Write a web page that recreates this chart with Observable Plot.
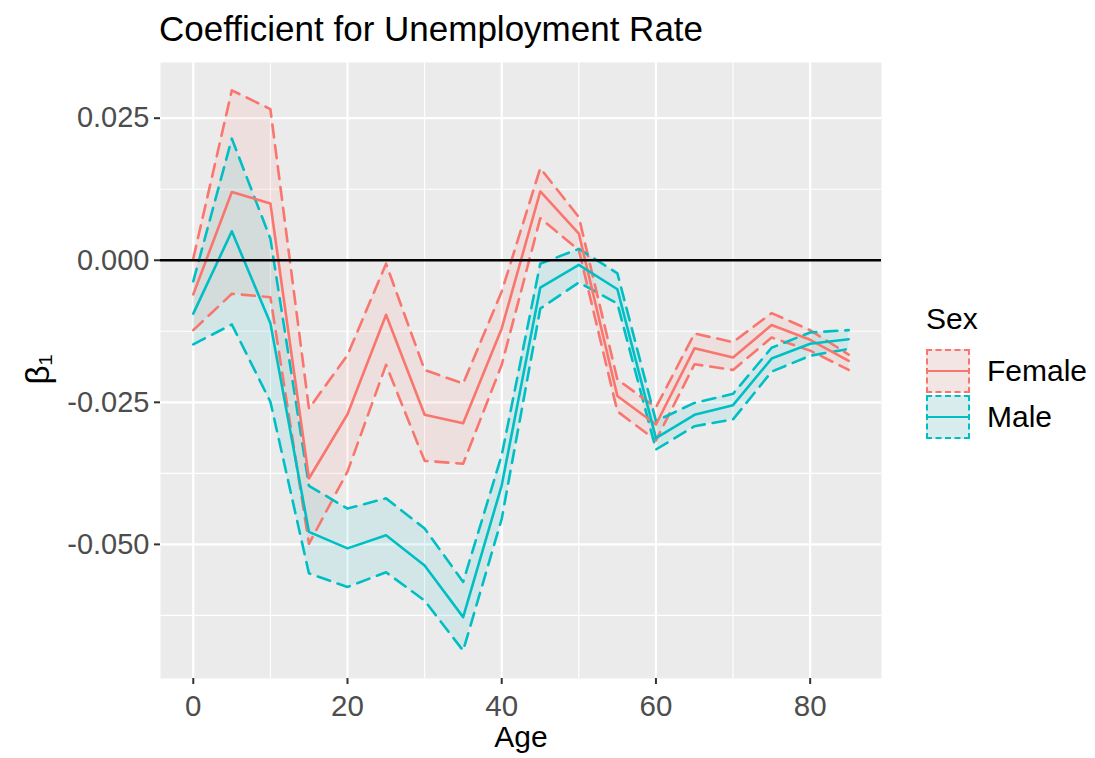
<!DOCTYPE html>
<html>
<head>
<meta charset="utf-8">
<script src="https://cdn.jsdelivr.net/npm/d3@7"></script>
<script src="https://cdn.jsdelivr.net/npm/@observablehq/plot@0.6"></script>
<style>
  body { margin: 0; background: #fff; font-family: "Liberation Sans", Arial, sans-serif; }
  #wrap { position: relative; width: 1095px; height: 758px; overflow: hidden; background: #fff; }
  #title { position: absolute; left: 159px; top: 9px; font-size: 35px; color: #000; white-space: nowrap; line-height: 40px; }
  #chart { position: absolute; left: 0; top: 46px; }
  .ltitle { position: absolute; left: 926px; top: 301px; font-size: 30px; line-height: 36px; color: #000; }
  .key { position: absolute; left: 926px; width: 44px; height: 44px; box-sizing: border-box; border-width: 2.5px; border-style: dashed; }
  .key .ln { position: absolute; left: 0; right: 0; top: 18.5px; height: 2.5px; }
  .lab { position: absolute; left: 987px; font-size: 30px; line-height: 44px; color: #000; white-space: nowrap; }
</style>
</head>
<body>
<div id="wrap">
  <div id="title">Coefficient for Unemployment Rate</div>
  <div id="chart"></div>
</div>
<script>
const ages = [0, 5, 10, 15, 20, 25, 30, 35, 40, 45, 50, 55, 60, 65, 70, 75, 80, 85];
const sexes = ["Female", "Male"];
const sexColors = ["#F8766D", "#00BFC4"];

const femaleMean  = [-0.0060, 0.0120, 0.0100, -0.0384, -0.0271, -0.0096, -0.0272, -0.0287, -0.0120, 0.0121, 0.0047, -0.0239, -0.0289, -0.0155, -0.0171, -0.0114, -0.0140, -0.0177];
const femaleLower = [-0.0123, -0.0059, -0.0065, -0.0499, -0.0372, -0.0184, -0.0353, -0.0358, -0.0184, 0.0074, 0.0018, -0.0266, -0.0317, -0.0183, -0.0193, -0.0136, -0.0159, -0.0193];
const femaleUpper = [0.0003, 0.0299, 0.0266, -0.0261, -0.0167, -0.0006, -0.0193, -0.0217, -0.0055, 0.0162, 0.0076, -0.0210, -0.0259, -0.0129, -0.0144, -0.0093, -0.0123, -0.0166];

const maleMean  = [-0.0094, 0.0051, -0.0111, -0.0478, -0.0507, -0.0484, -0.0537, -0.0628, -0.0396, -0.0048, -0.0008, -0.0051, -0.0313, -0.0272, -0.0255, -0.0173, -0.0147, -0.0139];
const maleLower = [-0.0148, -0.0113, -0.0249, -0.0551, -0.0575, -0.0549, -0.0599, -0.0687, -0.0455, -0.0085, -0.0039, -0.0076, -0.0333, -0.0292, -0.0280, -0.0196, -0.0168, -0.0156];
const maleUpper = [-0.0037, 0.0214, 0.0038, -0.0397, -0.0437, -0.0419, -0.0472, -0.0566, -0.0343, -0.0006, 0.0020, -0.0023, -0.0283, -0.0251, -0.0235, -0.0154, -0.0127, -0.0123];

const xTicks = [0, 20, 40, 60, 80];
const xMinor = [10, 30, 50, 70];
const yTicks = [0.025, 0, -0.025, -0.05];
const yMinor = [0.0125, -0.0125, -0.0375, -0.0625];

const rows = [];
ages.forEach((a, i) => rows.push({age: a, sex: "Female", mean: femaleMean[i], lower: femaleLower[i], upper: femaleUpper[i]}));
ages.forEach((a, i) => rows.push({age: a, sex: "Male", mean: maleMean[i], lower: maleLower[i], upper: maleUpper[i]}));

const dash = "13,8";
const lw = 2.6;

const plot = Plot.plot({
  width: 900,
  height: 712,
  marginTop: 16,
  marginBottom: 80,
  marginLeft: 160,
  marginRight: 19,
  style: {fontFamily: "'Liberation Sans', Arial, sans-serif", background: "transparent", overflow: "visible"},
  x: {domain: [-4.25, 89.25]},
  y: {domain: [-0.0736, 0.0348]},
  color: {domain: sexes, range: sexColors},
  marks: [
    Plot.frame({fill: "#EBEBEB", stroke: "none"}),
    Plot.gridX(xMinor, {stroke: "#fff", strokeOpacity: 1, strokeWidth: 1.1}),
    Plot.gridY(yMinor, {stroke: "#fff", strokeOpacity: 1, strokeWidth: 1.1}),
    Plot.gridX(xTicks, {stroke: "#fff", strokeOpacity: 1, strokeWidth: 2.2}),
    Plot.gridY(yTicks, {stroke: "#fff", strokeOpacity: 1, strokeWidth: 2.2}),
    Plot.areaY(rows, {x: "age", y1: "lower", y2: "upper", z: "sex", fill: "sex", fillOpacity: 0.1}),
    Plot.lineY(rows, {x: "age", y: "lower", z: "sex", stroke: "sex", strokeWidth: lw, strokeDasharray: dash}),
    Plot.lineY(rows, {x: "age", y: "upper", z: "sex", stroke: "sex", strokeWidth: lw, strokeDasharray: dash}),
    Plot.lineY(rows, {x: "age", y: "mean", z: "sex", stroke: "sex", strokeWidth: lw}),
    Plot.ruleY([0], {stroke: "#000", strokeWidth: 2.3}),
    Plot.axisX(xTicks, {tickSize: 6, tickPadding: 11, fontSize: 29.5, stroke: "#333333", fill: "#4D4D4D", strokeWidth: 2, label: null}),
    Plot.axisY(yTicks, {tickSize: 6, tickPadding: 5, fontSize: 29, stroke: "#333333", fill: "#4D4D4D", strokeWidth: 2, tickFormat: d => d.toFixed(3), label: null}),
    Plot.text(["Age"], {text: d => d, frameAnchor: "bottom", dy: 68, fontSize: 30, fill: "#000"}),
    Plot.text(["β₁"], {text: d => d, frameAnchor: "left", dx: -122, dy: 14, rotate: -90, fontSize: 33, fill: "#000"})
  ]
});
document.getElementById("chart").appendChild(plot);

// legend
const wrap = document.getElementById("wrap");
const lt = document.createElement("div");
lt.className = "ltitle";
lt.textContent = "Sex";
wrap.appendChild(lt);
const keyTops = [349, 395];
sexes.forEach((s, i) => {
  const c = d3.color(sexColors[i]);
  const key = document.createElement("div");
  key.className = "key";
  key.style.top = keyTops[i] + "px";
  key.style.borderColor = sexColors[i];
  key.style.background = `linear-gradient(rgba(${c.r},${c.g},${c.b},0.1), rgba(${c.r},${c.g},${c.b},0.1)), #F2F2F2`;
  const ln = document.createElement("div");
  ln.className = "ln";
  ln.style.background = sexColors[i];
  key.appendChild(ln);
  wrap.appendChild(key);
  const lab = document.createElement("div");
  lab.className = "lab";
  lab.style.top = keyTops[i] + "px";
  lab.textContent = s;
  wrap.appendChild(lab);
});
</script>
</body>
</html>
